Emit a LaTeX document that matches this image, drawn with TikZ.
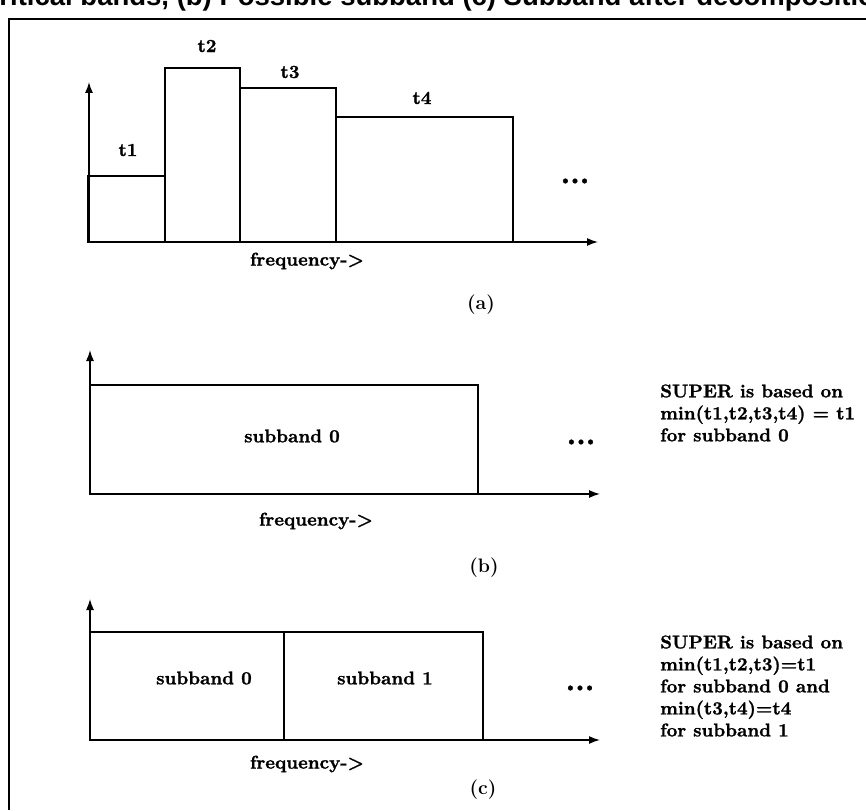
\documentclass[tikz,border=0pt]{standalone}
\usepackage{fontspec}
\newfontfamily\capfont{Liberation Sans}
\newfontfamily\heavyfont{lmroman10-bold.otf}[FakeBold=1.2]
\usetikzlibrary{arrows.meta}

\tikzset{
  bar/.style={line width=1.4pt},
  axisline/.style={line width=1.4pt,-{Latex[length=11pt,width=8pt]}},
  bandtext/.style={font=\heavyfont\fontsize{18.5}{22}\selectfont,inner sep=0pt},
  dotstext/.style={font=\heavyfont\fontsize{30}{30}\selectfont,inner sep=0pt},
  subcap/.style={font=\fontsize{19.5}{24}\selectfont\bfseries,inner sep=0pt},
  note/.style={bandtext,align=left,anchor=west}
}

\begin{document}
\begin{tikzpicture}[x=1pt,y=-1pt]
  \useasboundingbox (0,0) rectangle (866,810);
  \clip (0,0) rectangle (866,810);
  % frame, with the caption cut off above it
  \node[anchor=base west,inner sep=0pt,font=\capfont\fontsize{27.5}{30}\selectfont\bfseries] (cap) at (-16,6)
    {critical bands, (b) Possible subband (c) Subband after decomposition};
  \draw[line width=2.6pt] (9,810) -- (9,19) -- (866,19);

  % (a) critical bands
  \foreach \xa/\xb/\h in {88/165/176, 165/240/68, 240/336/88, 336/513/117}
    \draw[bar] (\xa,242) rectangle (\xb,\h);
  \foreach \n/\x/\y in {1/128/150, 2/207/46, 3/290/72, 4/422/98}
    \node[bandtext] (t\n) at (\x,\y) {t\n};
  \draw[axisline] (89,242) -- (89,82);
  \draw[axisline] (88,242) -- (598,242);
  \node[dotstext] (dotsA) at (575,181) {...};
  \node[bandtext] (freqA) at (307,261) {frequency->};
  \node[subcap] (capA) at (481,305) {(a)};

  % (b) one subband
  \draw[bar] (90,494) rectangle (478,385);
  \draw[axisline] (90,494) -- (90,350);
  \draw[axisline] (90,494) -- (600,494);
  \node[bandtext] (sbB) at (292,436) {subband 0};
  \node[dotstext] (dotsB) at (581,442) {...};
  \node[bandtext] (freqB) at (316,521) {frequency->};
  \node[subcap] (capB) at (484,568) {(b)};
  \node[note] (noteB) at (660,413) {SUPER is based on\\min(t1,t2,t3,t4) = t1\\for subband 0};

  % (c) after decomposition
  \draw[bar] (90,740) rectangle (284,632);
  \draw[bar] (284,740) rectangle (483,632);
  \draw[axisline] (90,740) -- (90,599);
  \draw[axisline] (90,740) -- (600,740);
  \node[bandtext] (sbC0) at (204,678) {subband 0};
  \node[bandtext] (sbC1) at (385,678) {subband 1};
  \node[dotstext] (dotsC) at (580,688) {...};
  \node[bandtext] (freqC) at (307,764) {frequency->};
  \node[subcap] (capC) at (483,790) {(c)};
  \node[note] (noteC) at (660,686) {SUPER is based on\\min(t1,t2,t3)=t1\\for subband 0 and\\min(t3,t4)=t4\\for subband 1};
\end{tikzpicture}
\end{document}
